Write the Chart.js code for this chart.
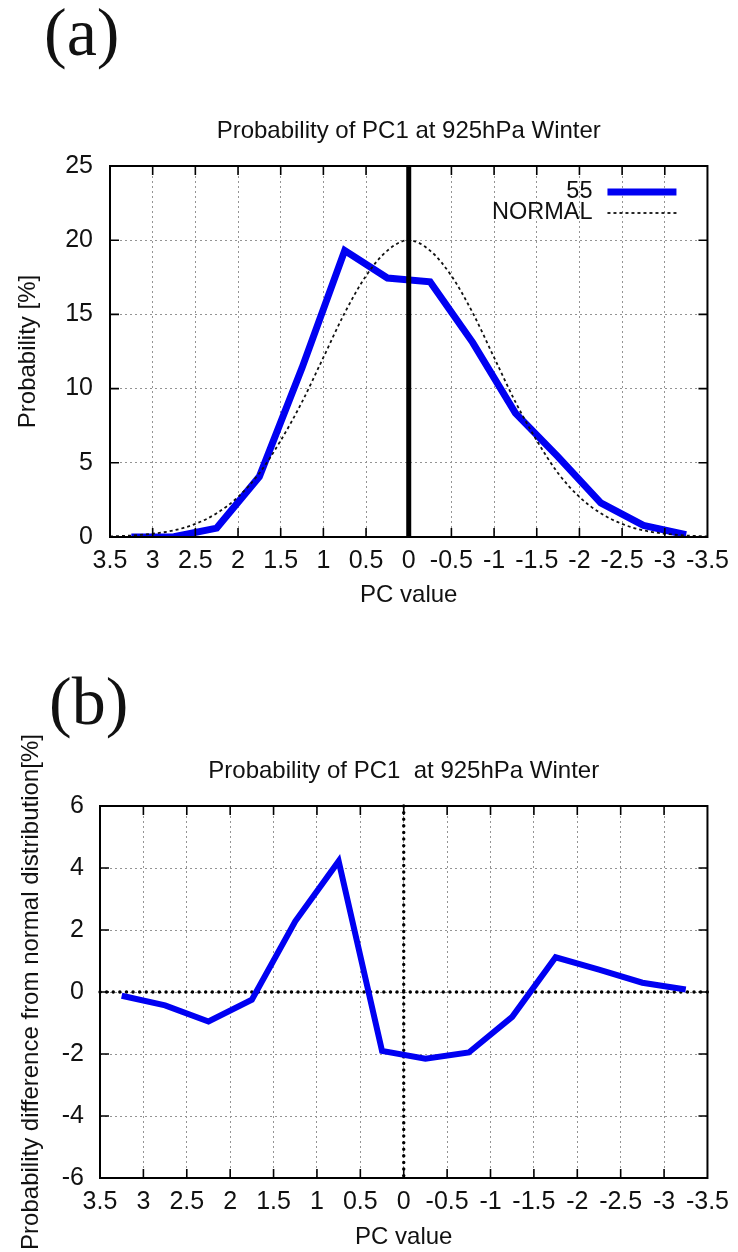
<!DOCTYPE html>
<html>
<head>
<meta charset="utf-8">
<script src="https://cdn.jsdelivr.net/npm/chart.js@4.4.1/dist/chart.umd.min.js"></script>
<style>
  html, body { margin: 0; padding: 0; background: #fff; }
  body { position: relative; width: 738px; height: 1252px; overflow: hidden; }
  canvas { position: absolute; left: 0; }
  #chartA { top: 0; }
  #chartB { top: 640px; }
  .panel-tag {
    position: absolute;
    font-family: "Liberation Serif", "Times New Roman", serif;
    font-size: 68px;
    line-height: 68px;
    color: #111;
  }
  #tagA { left: 44px; top: -2px; }
  #tagB { left: 49px; top: 667px; }
</style>
</head>
<body>
<div class="panel-tag" id="tagA">(a)</div>
<div class="panel-tag" id="tagB">(b)</div>
<canvas id="chartA" width="738" height="620"></canvas>
<canvas id="chartB" width="738" height="612"></canvas>
<script>
// PC1 bin centres (0.5 wide bins)
const pcBins = [3.25, 2.75, 2.25, 1.75, 1.25, 0.75, 0.25, -0.25, -0.75, -1.25, -1.75, -2.25, -2.75, -3.25];
// probability of each bin for "55" [%]
const prob55 = [0.0, 0.02, 0.6, 4.07, 11.4, 19.3, 17.45, 17.2, 13.1, 8.35, 5.4, 2.3, 0.78, 0.15];
// difference from normal distribution [%]
const diff55 = [-0.12, -0.43, -0.95, -0.25, 2.28, 4.22, -1.9, -2.15, -1.95, -0.8, 1.12, 0.72, 0.3, 0.08];

// normal curve, sampled every 0.25
const normalPc = [3.5, 3.25, 3, 2.75, 2.5, 2.25, 2, 1.75, 1.5, 1.25, 1, 0.75, 0.5, 0.25, 0,
                  -0.25, -0.5, -0.75, -1, -1.25, -1.5, -1.75, -2, -2.25, -2.5, -2.75, -3, -3.25, -3.5];
const normalProb = [0.04, 0.1, 0.22, 0.45, 0.88, 1.6, 2.7, 4.3, 6.5, 9.1, 12.1, 15.1, 17.6, 19.3, 20.0,
                    19.3, 17.6, 15.1, 12.1, 9.1, 6.5, 4.3, 2.7, 1.6, 0.88, 0.45, 0.22, 0.1, 0.04];

const xTickValues = [3.5, 3, 2.5, 2, 1.5, 1, 0.5, 0, -0.5, -1, -1.5, -2, -2.5, -3, -3.5];
const xTickLabels = ['3.5', '3', '2.5', '2', '1.5', '1', '0.5', '0', '-0.5', '-1', '-1.5', '-2', '-2.5', '-3', '-3.5'];
const yTicksA = [0, 5, 10, 15, 20, 25];
const yTicksB = [-6, -4, -2, 0, 2, 4, 6];

const titleText = 'Probability of PC1 at 925hPa Winter';
const titleTextB = 'Probability of PC1  at 925hPa Winter';

Chart.defaults.font.family = '"Liberation Sans", Arial, Helvetica, sans-serif';
Chart.defaults.color = '#111';

const blue = '#0000f2';

// box around the plot with inward tick marks on all four sides
const frameAndTicks = {
  id: 'frameAndTicks',
  afterDraw(chart) {
    const { ctx, chartArea: a, scales: { x, y } } = chart;
    const len = 9;
    ctx.save();
    ctx.strokeStyle = '#000';
    ctx.lineWidth = 1.6;
    ctx.beginPath();
    x.ticks.forEach(t => {
      const px = x.getPixelForValue(t.value);
      if (px <= a.left + 1 || px >= a.right - 1) return;
      ctx.moveTo(px, a.bottom); ctx.lineTo(px, a.bottom - len);
      ctx.moveTo(px, a.top); ctx.lineTo(px, a.top + len);
    });
    y.ticks.forEach(t => {
      const py = y.getPixelForValue(t.value);
      if (py <= a.top + 1 || py >= a.bottom - 1) return;
      ctx.moveTo(a.left, py); ctx.lineTo(a.left + len, py);
      ctx.moveTo(a.right, py); ctx.lineTo(a.right - len, py);
    });
    ctx.stroke();
    ctx.lineWidth = 2;
    ctx.strokeRect(a.left, a.top, a.right - a.left, a.bottom - a.top);
    ctx.restore();
  }
};

// zero axis lines (x = 0 and/or y = 0)
function drawZero(chart, o) {
  const { ctx, chartArea: a, scales: { x, y } } = chart;
  ctx.save();
  ctx.strokeStyle = '#000';
  ctx.lineWidth = o.width;
  ctx.lineCap = o.cap || 'butt';
  ctx.setLineDash(o.dash || []);
  ctx.beginPath();
  if (o.vertical) {
    const px = x.getPixelForValue(0);
    ctx.moveTo(px, a.top); ctx.lineTo(px, a.bottom);
  }
  if (o.horizontal) {
    const py = y.getPixelForValue(0);
    ctx.moveTo(a.left, py); ctx.lineTo(a.right, py);
  }
  ctx.stroke();
  ctx.restore();
}
const zeroAxes = {
  id: 'zeroAxes',
  beforeDatasetsDraw(chart, args, o) { if (o.layer === 'back') drawZero(chart, o); },
  afterDatasetsDraw(chart, args, o) { if (o.layer === 'front') drawZero(chart, o); }
};

// rotated y axis title, centred on the plot area
const sideTitle = {
  id: 'sideTitle',
  afterDraw(chart, args, o) {
    const { ctx, chartArea: a } = chart;
    ctx.save();
    ctx.translate(o.x, (a.top + a.bottom) / 2);
    ctx.rotate(-Math.PI / 2);
    ctx.font = o.size + 'px ' + Chart.defaults.font.family;
    ctx.fillStyle = '#111';
    ctx.textAlign = 'center';
    ctx.textBaseline = 'middle';
    ctx.fillText(o.text, 0, 0);
    ctx.restore();
  }
};

// key in the upper right corner: label text, then a line sample
const cornerKey = {
  id: 'cornerKey',
  afterDraw(chart, args, o) {
    if (!o.show) return;
    const { ctx, chartArea: a } = chart;
    ctx.save();
    ctx.font = '23.5px ' + Chart.defaults.font.family;
    ctx.textAlign = 'right';
    ctx.textBaseline = 'middle';
    chart.data.datasets.forEach((ds, i) => {
      const yy = a.top + 26 + i * 21;
      ctx.fillStyle = '#111';
      ctx.fillText(ds.label, a.right - 115, yy);
      ctx.strokeStyle = ds.borderColor;
      ctx.lineWidth = ds.borderWidth;
      ctx.setLineDash(ds.borderDash || []);
      ctx.beginPath();
      ctx.moveTo(a.right - 100, yy);
      ctx.lineTo(a.right - 31, yy);
      ctx.stroke();
    });
    ctx.restore();
  }
};

function panelChart(id, cfg) {
  return new Chart(document.getElementById(id), {
    type: 'line',
    data: { datasets: cfg.datasets },
    options: {
      responsive: false,
      animation: false,
      events: [],
      layout: { padding: { left: 0, right: cfg.padRight, top: 0, bottom: 0 } },
      plugins: {
        legend: { display: false },
        tooltip: { enabled: false },
        title: {
          display: true,
          fullSize: false, // centre over the plot area only
          text: cfg.title,
          color: '#111',
          font: { size: 24, weight: 'normal' },
          padding: { top: 116.6, bottom: 20.6 }
        },
        zeroAxes: cfg.zero,
        sideTitle: { text: cfg.yTitle, x: cfg.yTitleX, size: 24 },
        cornerKey: { show: cfg.key }
      },
      scales: {
        x: {
          type: 'linear',
          reverse: true,
          min: -3.5,
          max: 3.5,
          afterBuildTicks: s => { s.ticks = xTickValues.map(v => ({ value: v })); },
          afterFit: s => { s.height = cfg.xHeight; },
          ticks: {
            autoSkip: false,
            maxRotation: 0,
            padding: 9,
            font: { size: 25 },
            callback: v => xTickLabels[xTickValues.indexOf(v)]
          },
          grid: { color: '#949494', lineWidth: 1, drawTicks: false },
          border: { display: false, dash: [2, 3] },
          title: {
            display: true,
            text: 'PC value',
            font: { size: 24 },
            padding: { top: 0, bottom: cfg.xTitleBottom }
          }
        },
        y: {
          type: 'linear',
          min: cfg.yTicks[0],
          max: cfg.yTicks[cfg.yTicks.length - 1],
          afterBuildTicks: s => { s.ticks = cfg.yTicks.map(v => ({ value: v })); },
          afterFit: s => { s.width = cfg.yWidth; },
          ticks: { padding: cfg.yPad, font: { size: 25 } },
          grid: { color: '#949494', lineWidth: 1, drawTicks: false },
          border: { display: false, dash: [2, 3] }
        }
      }
    },
    plugins: [zeroAxes, frameAndTicks, sideTitle, cornerKey]
  });
}

// (a) probability distribution
panelChart('chartA', {
  title: titleText,
  yTitle: 'Probability [%]',
  yTitleX: 28,
  yTicks: yTicksA,
  yWidth: 110,
  yPad: 17,
  padRight: 30,
  xHeight: 83,
  xTitleBottom: 10.6,
  key: true,
  zero: { layer: 'front', vertical: true, width: 5 },
  datasets: [
    {
      label: '55',
      data: pcBins.map((pc, i) => ({ x: pc, y: prob55[i] })),
      borderColor: blue,
      borderWidth: 7,
      pointRadius: 0,
      tension: 0,
      order: 2
    },
    {
      label: 'NORMAL',
      data: normalPc.map((pc, i) => ({ x: pc, y: normalProb[i] })),
      borderColor: '#111',
      borderWidth: 1.8,
      borderDash: [3, 3],
      pointRadius: 0,
      cubicInterpolationMode: 'monotone',
      order: 1
    }
  ]
});

// (b) difference from the normal distribution
panelChart('chartB', {
  title: titleTextB,
  yTitle: 'Probability difference from normal distribution[%]',
  yTitleX: 31,
  yTicks: yTicksB,
  yWidth: 100,
  yPad: 16,
  padRight: 26,
  xHeight: 74,
  xTitleBottom: 0.6,
  key: false,
  zero: { layer: 'back', vertical: true, horizontal: true, width: 3.4, cap: 'round', dash: [0.1, 6.5] },
  datasets: [
    {
      label: '55',
      data: pcBins.map((pc, i) => ({ x: pc, y: diff55[i] })),
      borderColor: blue,
      borderWidth: 6,
      pointRadius: 0,
      tension: 0
    }
  ]
});
</script>
</body>
</html>
